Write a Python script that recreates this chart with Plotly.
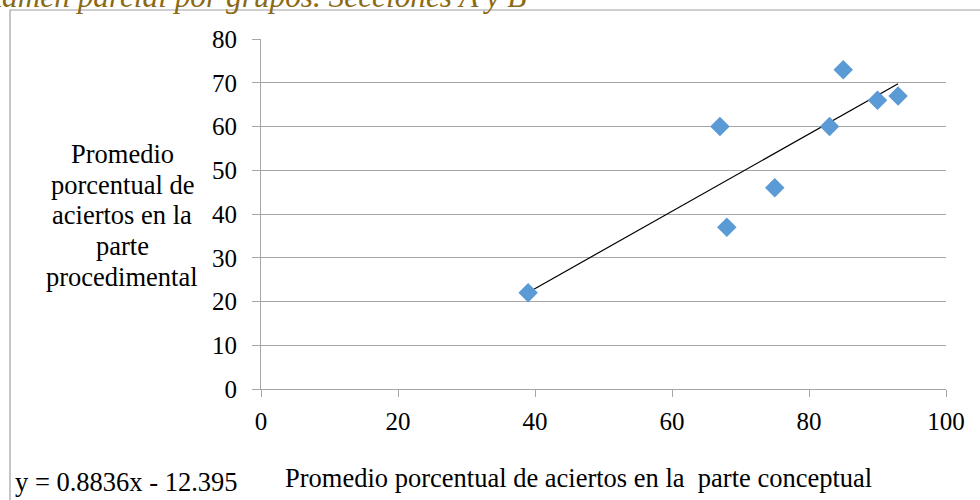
import plotly.graph_objects as go

conceptual = [39, 67, 68, 75, 83, 85, 90, 93]
procedimental = [22, 60, 37, 46, 60, 73, 66, 67]
slope = 0.8836
intercept = -12.395
x_ticks = [0, 20, 40, 60, 80, 100]
y_ticks = [0, 10, 20, 30, 40, 50, 60, 70, 80]
y_title_lines = ["Promedio", "porcentual de", "aciertos en la", "parte", "procedimental"]
x_title = "Promedio porcentual de aciertos en la  parte conceptual"
equation = "y = 0.8836x - 12.395"
chart_title = "Gráfico. Resultados del examen parcial por grupos. Secciones A y B"

FONT = "Liberation Serif"

trend_x = [min(conceptual), max(conceptual)]
trend_y = [slope * v + intercept for v in trend_x]

fig = go.Figure()
fig.add_trace(go.Scatter(
    x=trend_x, y=trend_y, mode="lines",
    line=dict(color="black", width=1.2), hoverinfo="skip", showlegend=False))
fig.add_trace(go.Scatter(
    x=conceptual, y=procedimental, mode="markers",
    marker=dict(symbol="diamond", size=15, color="#5B9BD5"),
    showlegend=False))

L, R, T, B = 261, 34, 39, 111
PW = 980 - L - R
PH = 500 - T - B

def px(xp):
    return (xp - L) / PW

def py(yp):
    return (500 - B - yp) / PH

annotations = [
    dict(text=chart_title,
         xref="paper", yref="paper", x=px(528), y=py(-3.5), xanchor="right",
         yanchor="middle", showarrow=False,
         font=dict(size=31.3, family=FONT, color="#8C6A14", style="italic")),
    dict(text=x_title,
         xref="paper", yref="paper", x=px(578), y=py(478), xanchor="center",
         yanchor="middle", showarrow=False,
         font=dict(size=26.5, family=FONT)),
    dict(text=equation,
         xref="paper", yref="paper", x=px(13), y=py(482), xanchor="left",
         yanchor="middle", showarrow=False,
         font=dict(size=26.5, family=FONT)),
]
for i, line in enumerate(y_title_lines):
    annotations.append(dict(
        text=line, xref="paper", yref="paper", x=px(122), y=py(154 + 30.7 * i),
        xanchor="center", yanchor="middle", showarrow=False,
        font=dict(size=26.5, family=FONT)))

fig.update_layout(
    width=980, height=500,
    margin=dict(l=L, r=R, t=T, b=B, autoexpand=False),
    paper_bgcolor="white", plot_bgcolor="white",
    font=dict(family=FONT, color="black"),
    xaxis=dict(range=[0, 100], tickvals=x_ticks, showgrid=False,
               showline=True, linecolor="#A6A6A6", linewidth=1,
               ticks="outside", ticklen=7, tickcolor="#A6A6A6",
               tickfont=dict(size=25, family=FONT), zeroline=False,
               ticklabelstandoff=3),
    yaxis=dict(range=[0, 80], tickvals=y_ticks, showgrid=True,
               gridcolor="#A6A6A6", gridwidth=1,
               showline=True, linecolor="#A6A6A6", linewidth=1,
               ticks="outside", ticklen=8, tickcolor="#A6A6A6",
               tickfont=dict(size=25, family=FONT), zeroline=False,
               ticklabelstandoff=10),
    shapes=[dict(type="rect", xref="paper", yref="paper",
                 x0=px(10), x1=px(995), y0=py(515), y1=py(10),
                 line=dict(color="#A0A0A0", width=1.2))],
    annotations=annotations,
)

fig.write_html("out.html", config={"displayModeBar": False},
               post_script="document.body.style.margin='0';document.body.style.overflow='hidden';")
